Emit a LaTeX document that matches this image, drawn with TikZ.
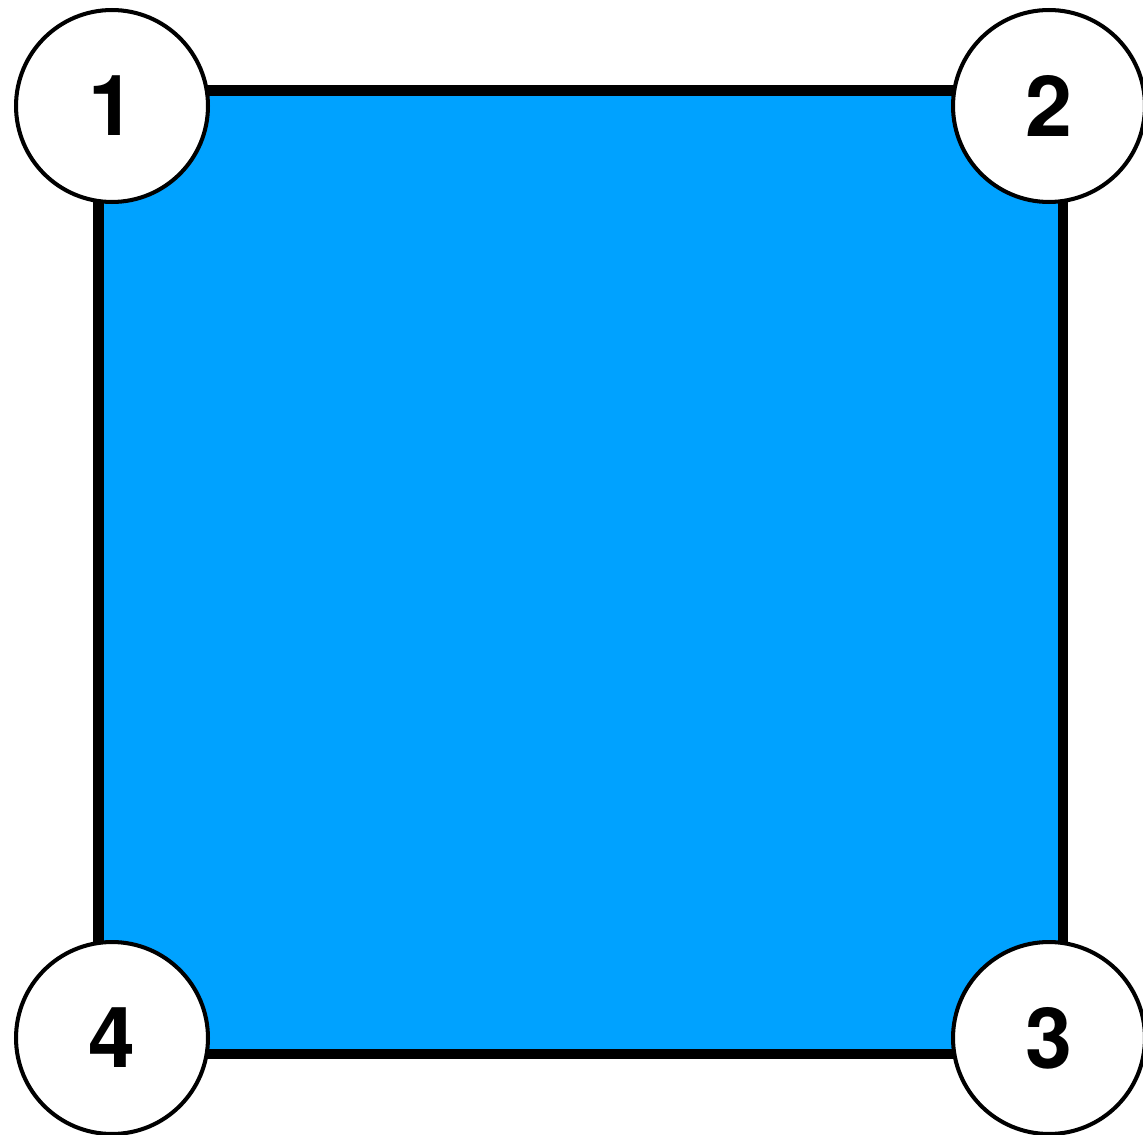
\documentclass[tikz,border=0pt]{standalone}
\usepackage{fontspec}
\setmainfont{TeX Gyre Heros}
\usepackage{xcolor}
\definecolor{fillblue}{RGB}{0,162,255}
\tikzset{
  corner/.style={circle, draw=black, fill=white, line width=2.3pt,
    minimum size=3.84cm, inner sep=0pt, font=\fontsize{48}{48}\bfseries\selectfont}
}
\begin{document}
\begin{tikzpicture}[x=0.02cm, y=-0.02cm]
\useasboundingbox (0,0) rectangle (1143,1135);

% the blue square
\filldraw[fill=fillblue, draw=black, line width=5.7pt] (98.5,90.5) rectangle (1063,1054);

% corner labels
\node[corner] (one)   at (112,106)  {1};
\node[corner] (two)   at (1049,106) {2};
\node[corner] (three) at (1049,1038) {3};
\node[corner] (four)  at (112,1038) {4};

\end{tikzpicture}
\end{document}
